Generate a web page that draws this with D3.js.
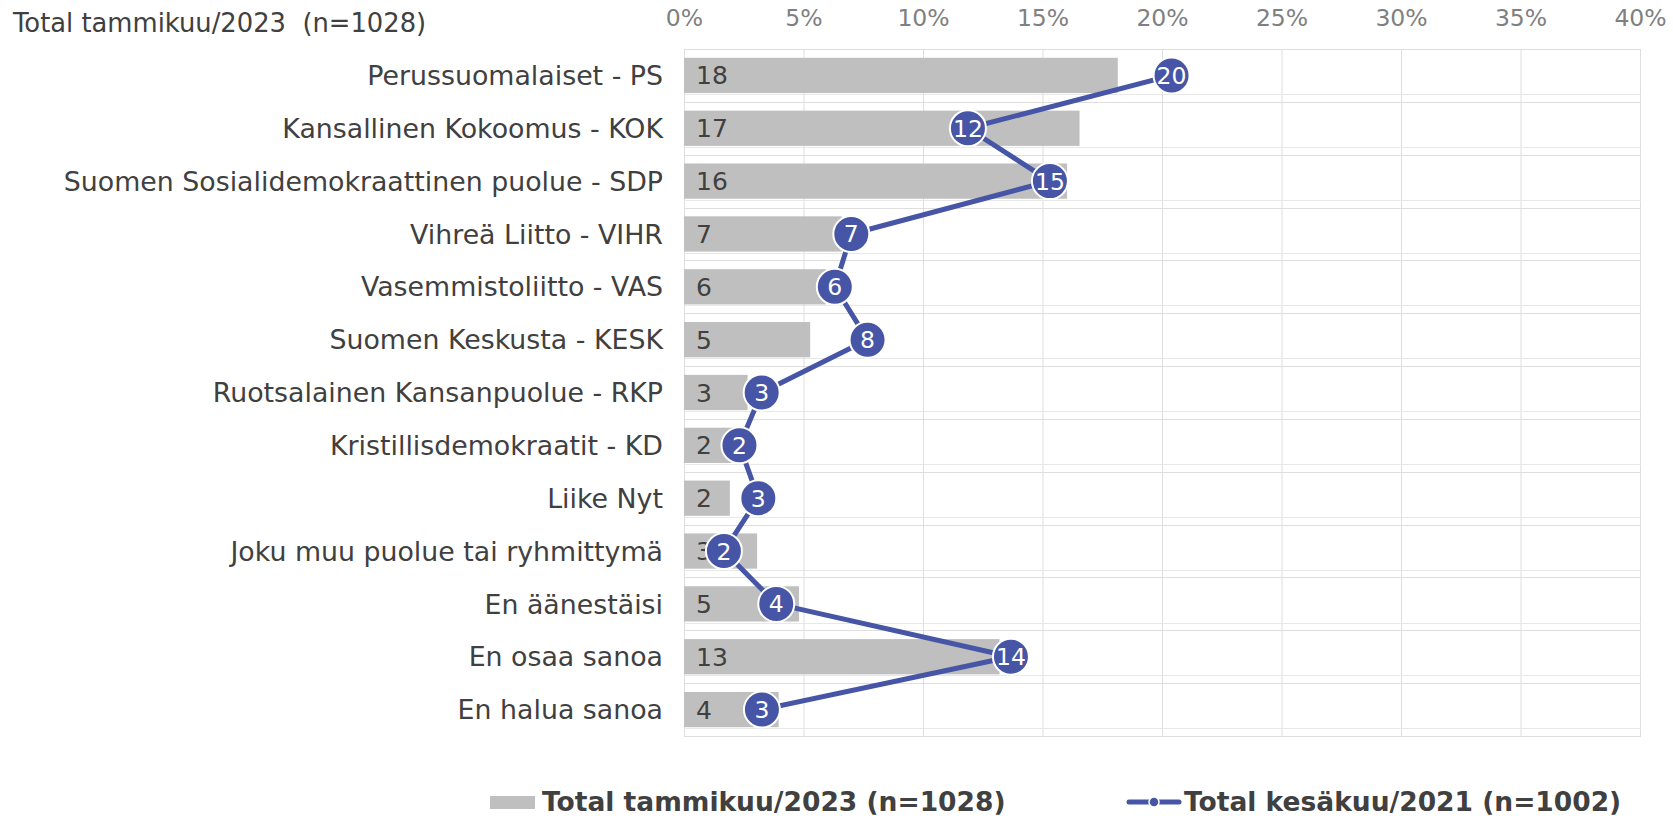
<!DOCTYPE html>
<html>
<head>
<meta charset="utf-8">
<script src="https://cdn.jsdelivr.net/npm/d3@7"></script>
<style>
    body { margin: 0; background: #fff; }
    text { font-family: "DejaVu Sans", Verdana, sans-serif; }
</style>
</head>
<body>
<svg id="chart" width="1673" height="816"></svg>
<script>
// Arvot luettu kuvasta (prosentteja)
var categories = [
    "Perussuomalaiset - PS",
    "Kansallinen Kokoomus - KOK",
    "Suomen Sosialidemokraattinen puolue - SDP",
    "Vihreä Liitto - VIHR",
    "Vasemmistoliitto - VAS",
    "Suomen Keskusta - KESK",
    "Ruotsalainen Kansanpuolue - RKP",
    "Kristillisdemokraatit - KD",
    "Liike Nyt",
    "Joku muu puolue tai ryhmittymä",
    "En äänestäisi",
    "En osaa sanoa",
    "En halua sanoa"
];
var values2023 = [18.15, 16.55, 16.03, 6.6, 5.94, 5.28, 2.66, 2.2, 1.92, 3.06, 4.81, 13.2, 3.96];
var values2021 = [20.4, 11.88, 15.31, 7.0, 6.31, 7.68, 3.25, 2.32, 3.11, 1.67, 3.86, 13.68, 3.26];
var xTicks = [0, 5, 10, 15, 20, 25, 30, 35, 40];
var seriesNames = ["Total tammikuu/2023 (n=1028)", "Total kesäkuu/2021 (n=1002)"];
var chartTitle = "Total tammikuu/2023  (n=1028)";

var barColor = "#bfbfbf",
    lineColor = "#4655a5",
    gridColor = "#dedede",
    textColor = "#404040";

var svg = d3.select("#chart");

var plot = {left: 684, right: 1640, top: 49, bottom: 736};

var x = d3.scaleLinear().domain([0, 40]).range([plot.left, plot.right]);
var y = d3.scaleBand().domain(categories)
    .range([plot.top, plot.bottom])
    .paddingInner(0.333).paddingOuter(0.1665);
var step = y.step();

// otsikko
svg.append("text")
    .attr("x", 13).attr("y", 32)
    .attr("font-size", "25.8px")
    .attr("fill", textColor)
    .attr("xml:space", "preserve")
    .text(chartTitle);

// pystysuorat ruudukkoviivat
var grid = svg.append("g");
grid.selectAll("line.v").data(xTicks).enter().append("line")
    .attr("class", "v")
    .attr("x1", function(d){ return x(d) + 0.5; })
    .attr("x2", function(d){ return x(d) + 0.5; })
    .attr("y1", plot.top).attr("y2", plot.bottom)
    .attr("stroke", gridColor).attr("stroke-width", 1);

// vaakaviivat kategorioiden välissä
var rows = d3.range(categories.length + 1);
grid.selectAll("line.h").data(rows).enter().append("line")
    .attr("class", "h")
    .attr("x1", plot.left).attr("x2", plot.right + 1)
    .attr("y1", function(i){ return Math.round(plot.top + i * step) + 0.5; })
    .attr("y2", function(i){ return Math.round(plot.top + i * step) + 0.5; })
    .attr("stroke", gridColor).attr("stroke-width", 1);

// heikot viivat palkkien alla
grid.selectAll("line.h2").data(categories).enter().append("line")
    .attr("class", "h2")
    .attr("x1", plot.left).attr("x2", plot.right + 1)
    .attr("y1", function(d){ return Math.round(y(d) + y.bandwidth()) + 1.5; })
    .attr("y2", function(d){ return Math.round(y(d) + y.bandwidth()) + 1.5; })
    .attr("stroke", "#e8e8e8").attr("stroke-width", 1);

// x-akselin tekstit ylhäällä
var xAxis = d3.axisTop(x).tickValues(xTicks).tickSize(0).tickPadding(0)
    .tickFormat(function(d){ return d + "%"; });
var xg = svg.append("g").attr("transform", "translate(0,26)").call(xAxis);
xg.select(".domain").remove();
xg.selectAll("text")
    .attr("font-size", "23.5px")
    .attr("font-family", "DejaVu Sans, Verdana, sans-serif")
    .attr("fill", "#808080")
    .attr("dy", 0);

// kategoriat
var yAxis = d3.axisLeft(y).tickSize(0).tickPadding(21);
var yg = svg.append("g").attr("transform", "translate(" + plot.left + ",0)").call(yAxis);
yg.select(".domain").remove();
yg.selectAll("text")
    .attr("font-size", "26.8px")
    .attr("font-family", "DejaVu Sans, Verdana, sans-serif")
    .attr("fill", textColor)
    .attr("dy", "0.36em");

// palkit 2023
var data = categories.map(function(c, i){
    return {cat: c, v23: values2023[i], v21: values2021[i]};
});

svg.append("g").selectAll("rect").data(data).enter().append("rect")
    .attr("x", x(0))
    .attr("y", function(d){ return y(d.cat); })
    .attr("width", function(d){ return x(d.v23) - x(0); })
    .attr("height", y.bandwidth())
    .attr("fill", barColor);

svg.append("g").selectAll("text").data(data).enter().append("text")
    .attr("x", x(0) + 12)
    .attr("y", function(d){ return y(d.cat) + y.bandwidth() / 2; })
    .attr("dy", "0.36em")
    .attr("font-size", "25px")
    .attr("fill", textColor)
    .text(function(d){ return Math.round(d.v23); });

// viiva 2021
var line = d3.line()
    .x(function(d){ return x(d.v21); })
    .y(function(d){ return y(d.cat) + y.bandwidth() / 2; });

svg.append("path").datum(data)
    .attr("d", line)
    .attr("fill", "none")
    .attr("stroke", lineColor)
    .attr("stroke-width", 5)
    .attr("stroke-linejoin", "round");

var markers = svg.append("g").selectAll("g").data(data).enter().append("g")
    .attr("transform", function(d){
        return "translate(" + x(d.v21) + "," + (y(d.cat) + y.bandwidth() / 2) + ")";
    });
markers.append("circle")
    .attr("r", 18)
    .attr("fill", lineColor)
    .attr("stroke", "#fff")
    .attr("stroke-width", 2);
markers.append("text")
    .attr("text-anchor", "middle")
    .attr("dy", "0.36em")
    .attr("font-size", "23.5px")
    .attr("fill", "#fff")
    .text(function(d){ return Math.round(d.v21); });

// selite
var legend = svg.append("g");
legend.append("rect")
    .attr("x", 490).attr("y", 796).attr("width", 45).attr("height", 13)
    .attr("fill", barColor);
legend.append("text")
    .attr("x", 542).attr("y", 811)
    .attr("font-size", "26.5px").attr("font-weight", "bold")
    .attr("fill", textColor)
    .text(seriesNames[0]);

legend.append("line")
    .attr("x1", 1129).attr("x2", 1179).attr("y1", 802).attr("y2", 802)
    .attr("stroke", lineColor).attr("stroke-width", 5)
    .attr("stroke-linecap", "round");
legend.append("circle")
    .attr("cx", 1154).attr("cy", 802).attr("r", 5)
    .attr("fill", lineColor).attr("stroke", "#fff").attr("stroke-width", 1.5);
legend.append("text")
    .attr("x", 1184).attr("y", 811)
    .attr("font-size", "26.5px").attr("font-weight", "bold")
    .attr("fill", textColor)
    .text(seriesNames[1]);
</script>
</body>
</html>
